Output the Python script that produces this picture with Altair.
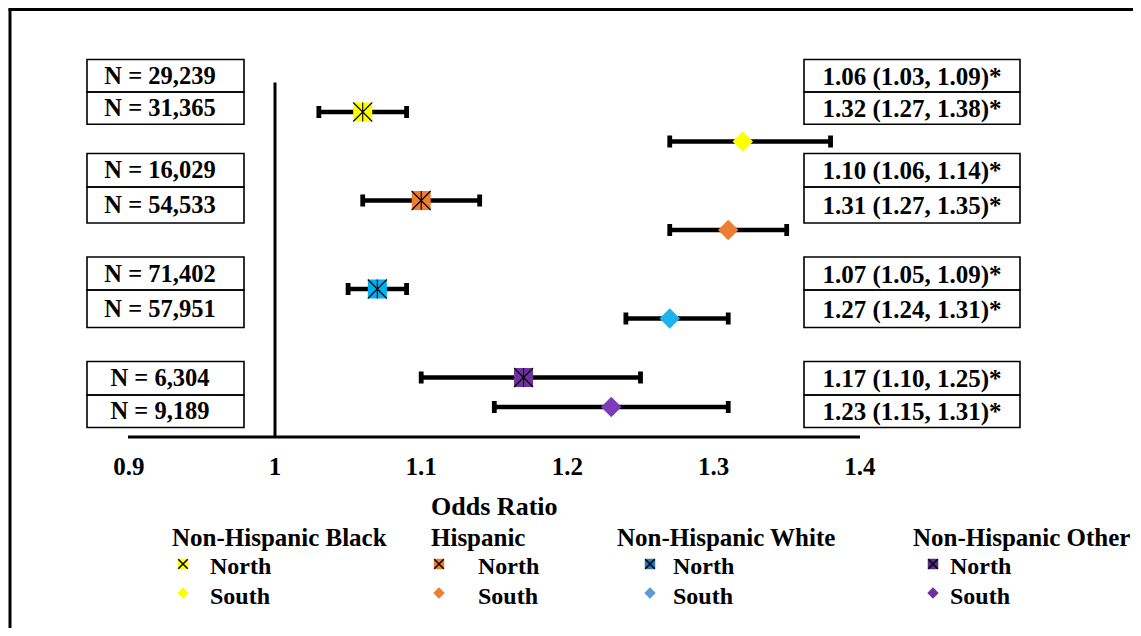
import altair as alt
import pandas as pd

# ---------------- data ----------------
groups = ["Non-Hispanic Black", "Hispanic", "Non-Hispanic White", "Non-Hispanic Other"]
n_north = ["29,239", "16,029", "71,402", "6,304"]
n_south = ["31,365", "54,533", "57,951", "9,189"]
or_north = [1.06, 1.10, 1.07, 1.17]
lo_north = [1.03, 1.06, 1.05, 1.10]
hi_north = [1.09, 1.14, 1.09, 1.25]
or_south = [1.32, 1.31, 1.27, 1.23]
lo_south = [1.27, 1.27, 1.24, 1.15]
hi_south = [1.38, 1.35, 1.31, 1.31]
x_ticks = [0.9, 1.0, 1.1, 1.2, 1.3, 1.4]
x_tick_labels = ["0.9", "1", "1.1", "1.2", "1.3", "1.4"]
axis_title = "Odds Ratio"
legend_labels = ["North", "South"]

# ---------------- styles ----------------
north_colors = ["#FFFF00", "#ED7D31", "#00B0F0", "#7030A0"]
south_colors = ["#FFFF00", "#ED7D31", "#1CB3EF", "#7C3CBA"]
leg_north_colors = ["#FFFF00", "#ED7D31", "#2E75B6", "#5B2C87"]
leg_south_colors = ["#FFFF00", "#ED7D31", "#5B9BD5", "#7030A0"]
FONT = "Liberation Serif"

# ---------------- layout (page pixels) ----------------
W, H = 1125, 620
PX_ONE, PX_PER_UNIT = 275, 1462.0     # x pixel of OR = 1, pixels per OR unit
PX_ROW0, PX_PER_ROW = 112, 29.5       # y pixel of row 0, pixels per row
D0 = 1 - (PX_ONE - 8) / PX_PER_UNIT
D1 = D0 + W / PX_PER_UNIT
R0 = -(PX_ROW0 - 8) / PX_PER_ROW
R1 = R0 + H / PX_PER_ROW


def xv(px):
    return D0 + (px - 8) / PX_PER_UNIT


def yv(py):
    return R0 + (py - 8) / PX_PER_ROW


box_tops = [59.5, 153.5, 257, 361.5]
box_mids = [92, 187, 290, 395]
box_bots = [124.3, 223, 327.5, 427.5]
left_box = (87, 244, 160)
right_box = (804, 1020, 912)
leg_title_x = [172, 431, 617, 913]
leg_marker_x = [183, 439, 650, 933]
leg_label_x = [210, 478, 673, 950]
leg_title_y, leg_north_y, leg_south_y = 538, 567, 597
leg_mark_north_y, leg_mark_south_y = 564, 593

XS = alt.Scale(domain=[D0, D1], nice=False, zero=False)
YS = alt.Scale(domain=[R0, R1], nice=False, zero=False, reverse=True)
X = alt.X("x:Q", scale=XS, axis=None)
Y = alt.Y("y:Q", scale=YS, axis=None)

# ---------------- tables ----------------
rows = []
for g in range(4):
    rows.append(dict(x=or_north[g], lo=lo_north[g], hi=hi_north[g], y=3 * g, region="North",
                     color=north_colors[g]))
    rows.append(dict(x=or_south[g], lo=lo_south[g], hi=hi_south[g], y=3 * g + 1, region="South",
                     color=south_colors[g]))
est = pd.DataFrame(rows)
north = est[est.region == "North"]
south = est[est.region == "South"]

cells = []
for g in range(4):
    txt_n = f"{or_north[g]:.2f} ({lo_north[g]:.2f}, {hi_north[g]:.2f})*"
    txt_s = f"{or_south[g]:.2f} ({lo_south[g]:.2f}, {hi_south[g]:.2f})*"
    for (t0, t1, ntxt, rtxt) in [(box_tops[g], box_mids[g], "N = " + n_north[g], txt_n),
                                 (box_mids[g], box_bots[g], "N = " + n_south[g], txt_s)]:
        cells.append(dict(y=yv(t0), y2=yv(t1), yc=yv((t0 + t1) / 2 + 1),
                          lx=xv(left_box[0]), lx2=xv(left_box[1]), lxc=xv(left_box[2]),
                          rx=xv(right_box[0]), rx2=xv(right_box[1]), rxc=xv(right_box[2]),
                          ltext=ntxt, rtext=rtxt))
cells = pd.DataFrame(cells)

ticks = pd.DataFrame(dict(x=x_ticks, label=x_tick_labels, y=[yv(467)] * len(x_ticks)))

leg_titles = pd.DataFrame(dict(x=[xv(p) for p in leg_title_x], y=[yv(leg_title_y)] * 4, text=groups))
leg_labels = pd.DataFrame(dict(
    x=[xv(p) for p in leg_label_x] * 2,
    y=[yv(leg_north_y)] * 4 + [yv(leg_south_y)] * 4,
    text=[legend_labels[0]] * 4 + [legend_labels[1]] * 4))
leg_north = pd.DataFrame(dict(x=[xv(p) for p in leg_marker_x], y=[yv(leg_mark_north_y)] * 4,
                              color=leg_north_colors))
leg_south = pd.DataFrame(dict(x=[xv(p) for p in leg_marker_x], y=[yv(leg_mark_south_y)] * 4,
                              color=leg_south_colors))

# ---------------- layers ----------------
frame_df = pd.DataFrame(dict(x=[xv(8.5), xv(10)], x2=[xv(1141), xv(10)],
                             y=[yv(9.5), yv(8.5)], y2=[yv(9.5), yv(636)]))
frame = alt.Chart(frame_df).mark_rule(color="black", strokeWidth=3).encode(
    x=X, x2="x2:Q", y=Y, y2="y2:Q")

ref_df = pd.DataFrame(dict(x=[1.0], x2=[1.0], y=[-1.0], y2=[yv(437)]))
ref = alt.Chart(ref_df).mark_rule(color="black", strokeWidth=3).encode(x=X, x2="x2:Q", y=Y, y2="y2:Q")

axis_df = pd.DataFrame(dict(x=[xv(128)], x2=[xv(860)], y=[yv(437)], y2=[yv(437)]))
axis_line = alt.Chart(axis_df).mark_rule(color="black", strokeWidth=3).encode(
    x=X, x2="x2:Q", y=Y, y2="y2:Q")

tick_text = alt.Chart(ticks).mark_text(font=FONT, fontWeight="bold", fontSize=25,
                                       align="center", baseline="middle", color="black").encode(
    x=X, y=Y, text="label:N")

title_df = pd.DataFrame(dict(x=[(x_ticks[0] + x_ticks[-1]) / 2], y=[yv(507)], text=[axis_title]))
title = alt.Chart(title_df).mark_text(font=FONT, fontWeight="bold", fontSize=26,
                                      align="center", baseline="middle", color="black").encode(
    x=X, y=Y, text="text:N")

ci = alt.Chart(est).mark_rule(color="black", strokeWidth=4.5).encode(
    x=alt.X("lo:Q", scale=XS, axis=None), x2="hi:Q", y=Y)
cap_shape = "M-0.4,-1H0.4V1H-0.4Z"
cap_lo = alt.Chart(est).mark_point(shape=cap_shape, filled=True, size=144, color="black", opacity=1).encode(
    x=alt.X("lo:Q", scale=XS, axis=None), y=Y)
cap_hi = alt.Chart(est).mark_point(shape=cap_shape, filled=True, size=144, color="black", opacity=1).encode(
    x=alt.X("hi:Q", scale=XS, axis=None), y=Y)

star = "M-1,-1L1,1M1,-1L-1,1M0,-1L0,1"
n_sq = alt.Chart(north).mark_square(size=361, opacity=1).encode(
    x=X, y=Y, color=alt.Color("color:N", scale=None))
n_star = alt.Chart(north).mark_point(shape=star, size=361, filled=False, color="black",
                                     strokeWidth=1.1, opacity=1).encode(x=X, y=Y)
s_dia = alt.Chart(south).mark_point(shape="diamond", size=420, filled=True, opacity=1).encode(
    x=X, y=Y, color=alt.Color("color:N", scale=None))

box_style = dict(fillOpacity=0, stroke="black", strokeWidth=1.6)
lbox = alt.Chart(cells).mark_rect(**box_style).encode(
    x=alt.X("lx:Q", scale=XS, axis=None), x2="lx2:Q", y=Y, y2="y2:Q")
rbox = alt.Chart(cells).mark_rect(**box_style).encode(
    x=alt.X("rx:Q", scale=XS, axis=None), x2="rx2:Q", y=Y, y2="y2:Q")
ltext = alt.Chart(cells).mark_text(font=FONT, fontWeight="bold", fontSize=24.5, align="center",
                                   baseline="middle", color="black").encode(
    x=alt.X("lxc:Q", scale=XS, axis=None), y=alt.Y("yc:Q", scale=YS, axis=None), text="ltext:N")
rtext = alt.Chart(cells).mark_text(font=FONT, fontWeight="bold", fontSize=25, align="center",
                                   baseline="middle", color="black").encode(
    x=alt.X("rxc:Q", scale=XS, axis=None), y=alt.Y("yc:Q", scale=YS, axis=None), text="rtext:N")

leg_style = dict(font=FONT, fontWeight="bold", fontSize=25, align="left", baseline="middle", color="black")
lab_style = dict(font=FONT, fontWeight="bold", fontSize=24, align="left", baseline="middle", color="black")
l_titles = alt.Chart(leg_titles).mark_text(**leg_style).encode(x=X, y=Y, text="text:N")
l_labels = alt.Chart(leg_labels).mark_text(**lab_style).encode(x=X, y=Y, text="text:N")
l_nsq = alt.Chart(leg_north).mark_square(size=110, opacity=1).encode(
    x=X, y=Y, color=alt.Color("color:N", scale=None))
l_nstar = alt.Chart(leg_north).mark_point(shape="M-1,-1L1,1M1,-1L-1,1", size=90, filled=False,
                                          color="black", strokeWidth=1.5, opacity=1).encode(x=X, y=Y)
l_sdia = alt.Chart(leg_south).mark_point(shape="diamond", size=130, filled=True, opacity=1).encode(
    x=X, y=Y, color=alt.Color("color:N", scale=None))

chart = alt.layer(
    frame, lbox, rbox, ltext, rtext, ref, axis_line, tick_text, title,
    ci, cap_lo, cap_hi, n_sq, n_star, s_dia,
    l_titles, l_labels, l_nsq, l_nstar, l_sdia,
).properties(
    width=W, height=H, autosize=alt.AutoSizeParams(type="none"), padding=0,
    background="white",
).configure_view(stroke=None)

chart.save("out.html", embed_options={"renderer": "svg", "actions": False})
